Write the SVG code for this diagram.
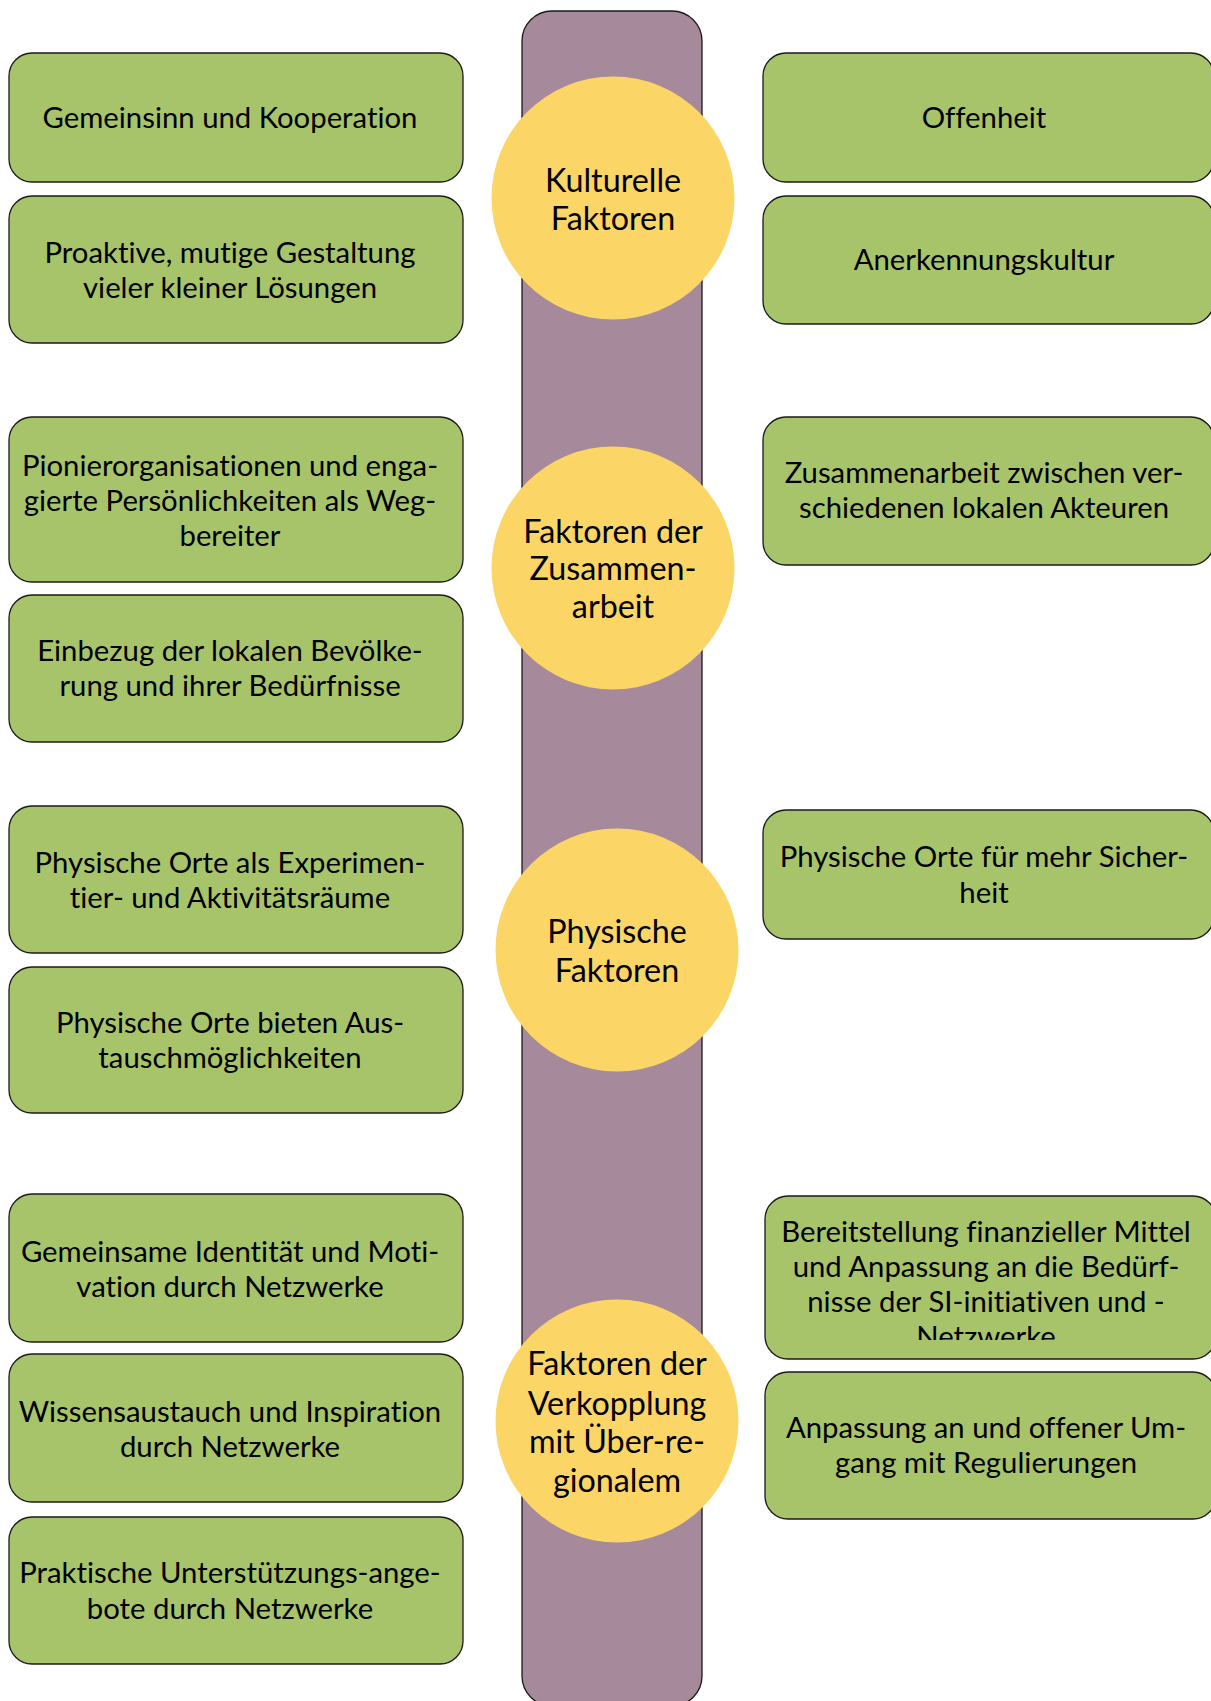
<svg xmlns="http://www.w3.org/2000/svg" width="1211" height="1701" viewBox="0 0 1211 1701">
<defs>
<style>
.box{fill:#A8C46A;stroke:#1a1a1a;stroke-width:1.3}
.pill{fill:#A7899C;stroke:#1a1a1a;stroke-width:1.3}
.circ{fill:#FBD666}
.t{font-family:Lato,"Open Sans",sans-serif;font-size:29.3px;fill:#000;text-anchor:middle;font-variant-ligatures:none}
.c{font-family:Lato,"Open Sans",sans-serif;font-size:32.3px;fill:#000;text-anchor:middle;font-variant-ligatures:none}
</style>
<clipPath id="clipR5"><rect x="765" y="1196" width="451" height="144"/></clipPath>
</defs>
<rect width="1211" height="1701" fill="#fff"/>
<g id="spine"><rect class="pill" x="522" y="11" width="180" height="1695" rx="30" ry="30"/></g>
<g id="connectors"></g>
<g id="L1"><rect class="box" x="9" y="53" width="454" height="129" rx="23"/><text class="t" x="230" y="128">Gemeinsinn und Kooperation</text></g>
<g id="L2"><rect class="box" x="9" y="196" width="454" height="147" rx="23"/><text class="t" x="230" y="263">Proaktive, mutige Gestaltung</text><text class="t" x="230" y="298">vieler kleiner Lösungen</text></g>
<g id="L3"><rect class="box" x="9" y="417" width="454" height="165" rx="23"/><text class="t" x="230" y="476">Pionierorganisationen und enga-</text><text class="t" x="230" y="511">gierte Persönlichkeiten als Weg-</text><text class="t" x="230" y="546">bereiter</text></g>
<g id="L4"><rect class="box" x="9" y="595" width="454" height="147" rx="23"/><text class="t" x="230" y="661">Einbezug der lokalen Bevölke-</text><text class="t" x="230" y="696">rung und ihrer Bedürfnisse</text></g>
<g id="L5"><rect class="box" x="9" y="806" width="454" height="147" rx="23"/><text class="t" x="230" y="873">Physische Orte als Experimen-</text><text class="t" x="230" y="908">tier- und Aktivitätsräume</text></g>
<g id="L6"><rect class="box" x="9" y="967" width="454" height="146" rx="23"/><text class="t" x="230" y="1033">Physische Orte bieten Aus-</text><text class="t" x="230" y="1068">tauschmöglichkeiten</text></g>
<g id="L7"><rect class="box" x="9" y="1194" width="454" height="148" rx="23"/><text class="t" x="230" y="1262">Gemeinsame Identität und Moti-</text><text class="t" x="230" y="1297">vation durch Netzwerke</text></g>
<g id="L8"><rect class="box" x="9" y="1354" width="454" height="148" rx="23"/><text class="t" x="230" y="1422">Wissensaustauch und Inspiration</text><text class="t" x="230" y="1457">durch Netzwerke</text></g>
<g id="L9"><rect class="box" x="9" y="1517" width="454" height="147" rx="23"/><text class="t" x="230" y="1583">Praktische Unterstützungs-ange-</text><text class="t" x="230" y="1619">bote durch Netzwerke</text></g>
<g id="R1"><rect class="box" x="763" y="53" width="451" height="129" rx="23"/><text class="t" x="984" y="128">Offenheit</text></g>
<g id="R2"><rect class="box" x="763" y="196" width="451" height="128" rx="23"/><text class="t" x="984" y="270">Anerkennungskultur</text></g>
<g id="R3"><rect class="box" x="763" y="417" width="451" height="148" rx="23"/><text class="t" x="984" y="483">Zusammenarbeit zwischen ver-</text><text class="t" x="984" y="518">schiedenen lokalen Akteuren</text></g>
<g id="R4"><rect class="box" x="763" y="810" width="451" height="129" rx="23"/><text class="t" x="984" y="867">Physische Orte für mehr Sicher-</text><text class="t" x="984" y="903">heit</text></g>
<g id="R5"><rect class="box" x="765" y="1196" width="451" height="163" rx="23"/><g clip-path="url(#clipR5)"><text class="t" x="986" y="1242">Bereitstellung finanzieller Mittel</text><text class="t" x="986" y="1277">und Anpassung an die Bedürf-</text><text class="t" x="986" y="1312">nisse der SI-initiativen und -</text><text class="t" x="986" y="1347">Netzwerke</text></g></g>
<g id="R6"><rect class="box" x="765" y="1372" width="451" height="147" rx="23"/><text class="t" x="986" y="1438">Anpassung an und offener Um-</text><text class="t" x="986" y="1473">gang mit Regulierungen</text></g>
<g id="C1"><circle class="circ" cx="613" cy="198" r="121.5"/><text class="c" x="613" y="192">Kulturelle</text><text class="c" x="613" y="230">Faktoren</text></g>
<g id="C2"><circle class="circ" cx="613" cy="568" r="121.5"/><text class="c" x="613" y="543">Faktoren der</text><text class="c" x="613" y="580">Zusammen-</text><text class="c" x="613" y="618">arbeit</text></g>
<g id="C3"><circle class="circ" cx="617" cy="950" r="121.5"/><text class="c" x="617" y="943">Physische</text><text class="c" x="617" y="982">Faktoren</text></g>
<g id="C4"><circle class="circ" cx="617" cy="1421" r="121.5"/><text class="c" x="617" y="1375">Faktoren der</text><text class="c" x="617" y="1415">Verkopplung</text><text class="c" x="617" y="1453">mit Über-re-</text><text class="c" x="617" y="1492">gionalem</text></g>
</svg>
